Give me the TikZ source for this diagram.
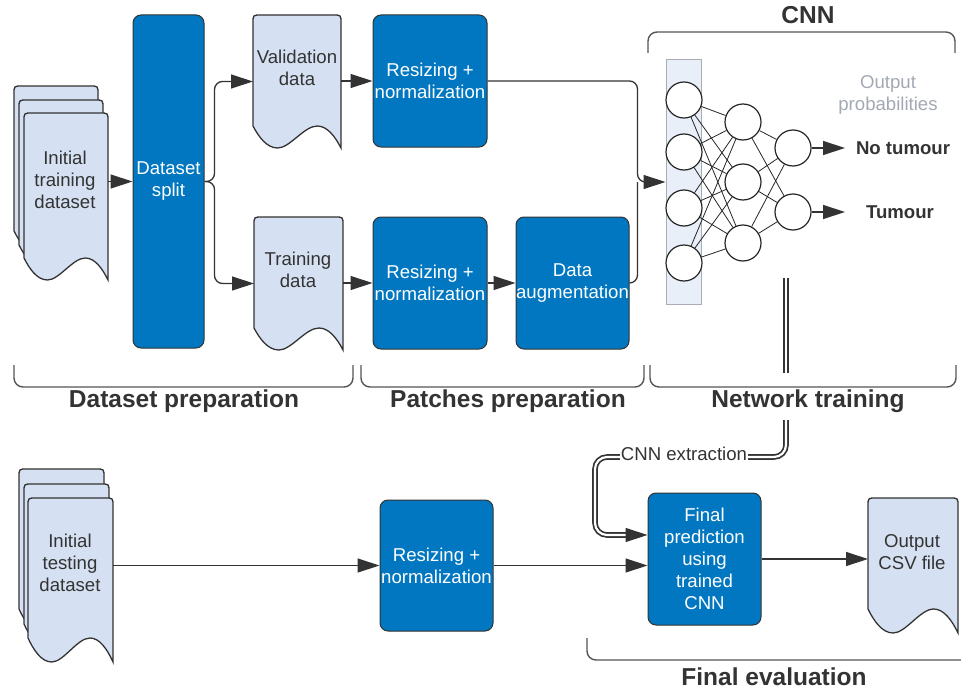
\documentclass[tikz,border=0pt]{standalone}
\usepackage{fontspec}
\setmainfont{Liberation Sans}
\usetikzlibrary{arrows.meta,calc}

\definecolor{ink}{HTML}{333333}
\definecolor{procblue}{HTML}{0077C0}
\definecolor{docfill}{HTML}{D5E1F2}
\definecolor{layerfill}{HTML}{E8EFF9}
\definecolor{layeredge}{HTML}{A8ADB5}
\definecolor{hintgray}{HTML}{A3A9B3}
\definecolor{bracegray}{HTML}{555555}

\newcommand{\bodysize}{\fontsize{18.6}{22}\selectfont}
\newcommand{\headsize}{\fontsize{24.5}{28}\selectfont\bfseries}

% document outline (rounded top, wavy bottom) over the area of node #2
\newcommand{\docoutline}[2][22pt]{%
  \filldraw[docline] let \p1=(#2.north west), \p2=(#2.south east), \n1={\x2-\x1} in
    (\x1,{\y2+#1}) -- (\x1,{\y1-8pt}) .. controls (\x1,\y1) .. ({\x1+8pt},\y1)
    -- ({\x2-8pt},\y1) .. controls (\x2,\y1) .. (\x2,{\y1-8pt})
    -- (\x2,\y2)
    .. controls ({\x2-0.07*\n1},{\y2+0.55*#1}) and ({\x1+0.84*\n1},{\y2+#1}) .. ({\x1+0.73*\n1},{\y2+#1})
    .. controls ({\x1+0.58*\n1},{\y2+#1}) and ({\x1+0.42*\n1},\y2) .. ({\x1+0.28*\n1},\y2)
    .. controls ({\x1+0.15*\n1},\y2) and ({\x1+0.06*\n1},{\y2+0.55*#1}) .. cycle;}

\begin{document}
\begin{tikzpicture}[x=1pt,y=-1pt,
  proc/.style={rectangle, rounded corners=8pt, fill=procblue, draw=ink, line width=1pt,
    text=white, align=center, font=\bodysize, inner sep=0pt},
  docarea/.style={rectangle, inner sep=0pt, outer sep=0pt},
  doctext/.style={text=ink, align=center, font=\bodysize},
  docline/.style={fill=docfill, draw=ink, line width=1.3pt},
  conn/.style={draw=ink, line width=1.3pt},
  arr/.style={conn, -{Triangle[length=22pt,width=14pt]}},
  neuron/.style={circle, draw=black!85, line width=1.2pt, fill=white, minimum size=36pt, inner sep=0pt},
  synapse/.style={draw=black!85, line width=0.8pt},
  heading/.style={text=ink, font=\headsize},
  grouping/.style={draw=bracegray, line width=1.4pt, rounded corners=9pt},
  dbl/.style={draw=ink, line width=1.7pt, double=white, double distance=2.2pt},
]
\useasboundingbox (0,0) rectangle (961,693);

% ---------- group brackets ----------
\draw[grouping] (14,365) -- (14,387) -- (353,387) -- (353,365);
\draw[grouping] (361,365) -- (361,387) -- (644,387) -- (644,365);
\draw[grouping] (650,365) -- (650,387) -- (956,387) -- (956,365);
\draw[grouping] (648,53) -- (648,32) -- (955,32) -- (955,53);
\draw[grouping] (587,638) -- (587,660) -- (975,660) -- (975,638);

\node[heading] (cnnhead)   at (808,15)  {CNN};
\node[heading] (prephead)  at (184,401) {Dataset preparation};
\node[heading] (patchhead) at (508,401) {Patches preparation};
\node[heading] (nethead)   at (808,401) {Network training};
\node[heading] (evalhead)  at (774,677) {Final evaluation};

% ---------- document shapes ----------
\node[docarea, minimum width=84pt, minimum height=167pt] (trainC) at (56,169.5) {};
\node[docarea, minimum width=84pt, minimum height=167pt] (trainB) at (61,183.5) {};
\node[docarea, minimum width=84pt, minimum height=167pt] (trainA) at (66,196.5) {};
\node[docarea, minimum width=85pt, minimum height=164pt] (testC) at (61.5,551) {};
\node[docarea, minimum width=85pt, minimum height=164pt] (testB) at (66.5,566) {};
\node[docarea, minimum width=85pt, minimum height=164pt] (testA) at (70.5,580) {};
\node[docarea, minimum width=88pt, minimum height=133pt] (valid) at (297,81.5) {};
\node[docarea, minimum width=89pt, minimum height=133pt] (traind) at (298.5,283.5) {};
\node[docarea, minimum width=90pt, minimum height=135pt] (csv) at (913,565.5) {};

\docoutline{trainC}
\docoutline{trainB}
\docoutline{trainA}
\docoutline[24pt]{testC}
\docoutline[24pt]{testB}
\docoutline[24pt]{testA}
\docoutline{valid}
\docoutline{traind}
\docoutline[24pt]{csv}

\node[doctext] (trainAtxt) at (65,180)  {Initial\\training\\dataset};
\node[doctext] (testAtxt)  at (70,563)  {Initial\\testing\\dataset};
\node[doctext] (validtxt)  at (297,68)  {Validation\\data};
\node[doctext] (traindtxt) at (298,270) {Training\\data};
\node[doctext] (csvtxt)    at (912,552) {Output\\CSV file};

% ---------- processing boxes ----------
\node[proc, minimum width=71pt,  minimum height=333pt] (split) at (168.5,181.5) {Dataset\\split};
\node[proc, minimum width=114pt, minimum height=132pt] (r1)    at (430,81)      {Resizing +\\normalization};
\node[proc, minimum width=114pt, minimum height=132pt] (r2)    at (430,283)     {Resizing +\\normalization};
\node[proc, minimum width=113pt, minimum height=132pt] (aug)   at (572.5,283)   {Data\\augmentation};
\node[proc, minimum width=113pt, minimum height=131pt] (r3)    at (436.5,565.5) {Resizing +\\normalization};
\node[proc, minimum width=113pt, minimum height=132pt] (final) at (704.5,559)   {Final\\prediction\\using\\trained\\CNN};

% ---------- network ----------
\node[rectangle, fill=layerfill, draw=layeredge, line width=1pt, minimum width=35pt,
      minimum height=244pt, inner sep=0pt] (cnnbox) at (683.5,182) {};
\node[neuron] (i1) at (684,100) {};
\node[neuron] (i2) at (684,152) {};
\node[neuron] (i3) at (684,208) {};
\node[neuron] (i4) at (684,263) {};
\node[neuron] (h1) at (743,122) {};
\node[neuron] (h2) at (743,182) {};
\node[neuron] (h3) at (743,243) {};
\node[neuron] (o1) at (793,148) {};
\node[neuron] (o2) at (793,212) {};
\foreach \a in {1,...,4} \foreach \b in {1,2,3} \draw[synapse] (i\a) -- (h\b);
\foreach \a in {1,2,3} \foreach \b in {1,2} \draw[synapse] (h\a) -- (o\b);

\node[text=hintgray, font=\bodysize, align=center] (outprob) at (888,95) {Output\\probabilities};
\node[text=ink, font=\bodysize\bfseries] (notum) at (903,148) {No tumour};
\node[text=ink, font=\bodysize\bfseries] (tum)   at (900,212) {Tumour};
\coordinate (p1) at (845,148);
\coordinate (p2) at (845,212);
\draw[arr] (o1) -- (p1);
\draw[arr] (o2) -- (p2);

% ---------- connectors ----------
\draw[arr] (trainA.east |- split.west) -- (split.west);
\coordinate (fork) at ([xshift=10pt]split.east);
\draw[arr, rounded corners=8pt] (split.east) -- (fork) |- (valid.west);
\draw[arr, rounded corners=8pt] (split.east) -- (fork) |- (traind.west);
\draw[arr] (valid.east |- r1.west) -- (r1.west);
\draw[arr] (traind.east |- r2.west) -- (r2.west);
\draw[arr] (r2.east) -- (aug.west);
\coordinate (merge) at ([xshift=-28pt]cnnbox.west);
\draw[arr, rounded corners=8pt] (r1.east) -| (merge) -- (cnnbox.west);
\draw[conn, rounded corners=8pt] (aug.east) -| (merge);

\draw[arr] (testA.east |- r3.west) -- (r3.west);
\draw[arr] (r3.east) -- (r3.east -| final.west);
\draw[arr] (final.east) -- (final.east -| csv.west);

% trained network handed over to the final prediction
\coordinate (net0) at (786,278);
\coordinate (net1) at (786,373);
\draw[dbl] (net0) -- (net1);
\coordinate (ext0) at (786,420);
\coordinate (extbend) at (595,457);
\coordinate (extend) at (626,535);
\draw[dbl, rounded corners=12pt] (ext0) |- (extbend) |- (extend);
\draw[arr] (extend) -- (final.west |- extend);
\node[fill=white, text=ink, font=\bodysize, inner sep=1pt] (extlabel) at (684,454) {CNN extraction};

\end{tikzpicture}
\end{document}
